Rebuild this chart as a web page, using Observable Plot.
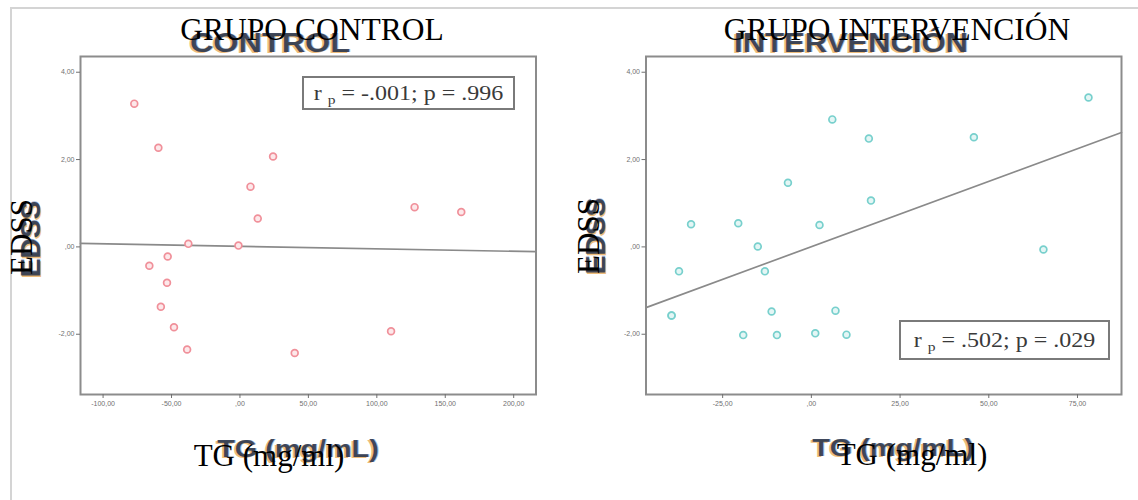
<!DOCTYPE html>
<html><head><meta charset="utf-8">
<script src="https://cdn.jsdelivr.net/npm/d3@7"></script>
<script src="https://cdn.jsdelivr.net/npm/@observablehq/plot@0.6"></script>
<style>
html,body{margin:0;padding:0;background:#fff;}
#wrap{position:relative;width:1138px;height:500px;overflow:hidden;background:#fff;}
#wrap > svg{position:absolute;top:0;}
#frameLines{position:absolute;left:10px;top:7px;width:1200px;height:600px;border-left:2px solid #d4d4d4;border-top:2px solid #d4d4d4;}
</style></head><body>
<div id="wrap"><div id="frameLines"></div></div>
<script>
// ---- data ----
const yDomain = [-3.38, 4.36];
const yTicks = [-2, 0, 2, 4];

const controlTG   = [-77.2, -59.6, 24.2, 7.7, 13.0, 127.6, 161.7, -37.7, -1.1, -52.8, -66.2, -53.3, -57.8, -48.2, -38.6, 40.0, 110.4];
const controlEDSS = [3.28, 2.27, 2.07, 1.38, 0.65, 0.91, 0.80, 0.07, 0.03, -0.22, -0.43, -0.82, -1.37, -1.84, -2.35, -2.43, -1.93];
const controlXDomain = [-116.5, 216.3];
const controlXTicks = [-100, -50, 0, 50, 100, 150, 200];
const controlFitTG = [-116.5, 216.3];
const controlFitEDSS = [0.08, -0.11];

const intervTG   = [78.1, 5.9, 16.2, 45.8, -6.6, 16.8, -33.9, -20.6, 2.3, -15.1, 65.4, -37.3, -13.1, -39.4, -39.4, -11.2, 6.8, -19.2, -9.7, 1.1, 9.9];
const intervEDSS = [3.42, 2.92, 2.48, 2.51, 1.47, 1.06, 0.52, 0.54, 0.50, 0.01, -0.06, -0.56, -0.56, -1.57, -1.57, -1.48, -1.46, -2.02, -2.02, -1.98, -2.01];
const intervXDomain = [-46.6, 87.4];
const intervXTicks = [-25, 0, 25, 50, 75];
const intervFitTG = [-46.6, 87.4];
const intervFitEDSS = [-1.39, 2.62];

const titles = ["GRUPO CONTROL", "GRUPO INTERVENCIÓN"];
const ghostTitles = ["CONTROL", "INTERVENCIÓN"];
const yLabel = "EDSS";
const xLabel = "TG (mg/ml)";
const ghostXLabel = "TG (mg/mL)";
const stats = [["-.001", ".996"], [".502", ".029"]];

// ---- helpers ----
const esFmt = d => d === 0 ? ",00" : d.toFixed(2).replace(".", ",");

function panel({tg, edss, fitTG, fitEDSS, xDomain, xTicks, width, ml, mr, stroke, fill}) {
  const pts = tg.map((x, i) => ({x, y: edss[i]}));
  const fit = fitTG.map((x, i) => ({x, y: fitEDSS[i]}));
  return Plot.plot({
    width, height: 450,
    marginLeft: ml, marginRight: mr, marginTop: 56, marginBottom: 56,
    x: {domain: xDomain, label: null},
    y: {domain: yDomain, label: null},
    style: {fontFamily: "'Liberation Sans', Arial, sans-serif", fontSize: "7px", background: "transparent", overflow: "visible"},
    marks: [
      Plot.line(fit, {x: "x", y: "y", stroke: "#8a8a8a", strokeWidth: 1.7}),
      Plot.dot(pts, {x: "x", y: "y", r: 3.4, stroke, fill, strokeWidth: 1.7}),
      Plot.frame({stroke: "#8c8c8c", strokeWidth: 2}),
      Plot.axisY({ticks: yTicks, tickFormat: esFmt, tickSize: 4, tickPadding: 2, color: "#707070", label: null, fontSize: 7}),
      Plot.axisX({ticks: xTicks, tickFormat: esFmt, tickSize: 4, tickPadding: 3, color: "#707070", label: null, fontSize: 7})
    ]
  });
}

const wrap = document.getElementById("wrap");

const p1 = panel({tg: controlTG, edss: controlEDSS, fitTG: controlFitTG, fitEDSS: controlFitEDSS,
  xDomain: controlXDomain, xTicks: controlXTicks, width: 560, ml: 80, mr: 24.5, stroke: "#f0909a", fill: "#fde8ea"});
p1.style.left = "0px";
wrap.appendChild(p1);

const p2 = panel({tg: intervTG, edss: intervEDSS, fitTG: intervFitTG, fitEDSS: intervFitEDSS,
  xDomain: intervXDomain, xTicks: intervXTicks, width: 568, ml: 75.5, mr: 17, stroke: "#78d0cd", fill: "#e4f6f5"});
p2.style.left = "570px";
wrap.appendChild(p2);

// ---- overlay text layer ----
const ov = d3.select(wrap).append("svg")
  .attr("width", 1138).attr("height", 500)
  .style("left", "0px").style("pointer-events", "none");

const sans = "'Liberation Sans', Arial, sans-serif";
const serif = "'Liberation Serif', 'Times New Roman', serif";

function ghost(text, cx, by, size, rotate, sx) {
  const g = ov.append("g").attr("transform", `translate(${cx},${by}) rotate(${rotate}) scale(${sx},1)`);
  g.append("text").text(text).attr("x", -1.5).attr("y", 1.2)
    .attr("text-anchor", "middle").attr("font-family", sans).attr("font-weight", "bold")
    .attr("font-size", size).attr("fill", "#e8a650").attr("opacity", 0.75);
  g.append("text").text(text).attr("x", 0.8).attr("y", -0.5)
    .attr("text-anchor", "middle").attr("font-family", sans).attr("font-weight", "bold")
    .attr("font-size", size).attr("fill", "#6b8cc0").attr("opacity", 0.55);
  g.append("text").text(text)
    .attr("text-anchor", "middle").attr("font-family", sans).attr("font-weight", "bold")
    .attr("font-size", size).attr("fill", "#2c3446").attr("opacity", 0.85);
}
function plain(text, cx, by, size, rotate) {
  ov.append("text").text(text)
    .attr("transform", `translate(${cx},${by}) rotate(${rotate})`)
    .attr("text-anchor", "middle").attr("font-family", serif)
    .attr("font-size", size).attr("fill", "#000");
}
function statBox(x0, y0, w, h, r, p) {
  ov.append("rect").attr("x", x0).attr("y", y0).attr("width", w).attr("height", h)
    .attr("fill", "#fff").attr("stroke", "#7a7a7a").attr("stroke-width", 2);
  const t = ov.append("text")
    .attr("transform", `translate(${x0 + w / 2},${y0 + h / 2 + 7}) scale(1.2,1)`)
    .attr("text-anchor", "middle").attr("font-family", serif).attr("font-size", 20).attr("fill", "#3a3a3a");
  t.append("tspan").text("r ");
  t.append("tspan").text("p").attr("font-size", 13).attr("dy", 4);
  t.append("tspan").text(` = ${r}; p = ${p}`).attr("dy", -4);
}

// ghost (original) labels
ghost(ghostTitles[0], 270, 52, 27, 0, 1.2);
ghost(ghostTitles[1], 851, 52, 27, 0, 1.15);
ghost(yLabel, 40, 239, 28, -90, 1);
ghost(yLabel, 605, 236, 28, -90, 1);
ghost(ghostXLabel, 298, 457, 24, 0, 1.2);
ghost(ghostXLabel, 893, 456, 24, 0, 1.2);

// overlaid labels
plain(titles[0], 312, 40, 31.5, 0);
plain(titles[1], 897, 40, 31.5, 0);
plain(yLabel, 32, 237, 31, -90);
plain(yLabel, 599, 236, 31, -90);
plain(xLabel, 269, 466, 31, 0);
plain(xLabel, 912, 465, 31, 0);

// stat boxes
statBox(303, 77, 211, 32, stats[0][0], stats[0][1]);
statBox(900, 321, 209, 38, stats[1][0], stats[1][1]);
</script>
</body></html>
